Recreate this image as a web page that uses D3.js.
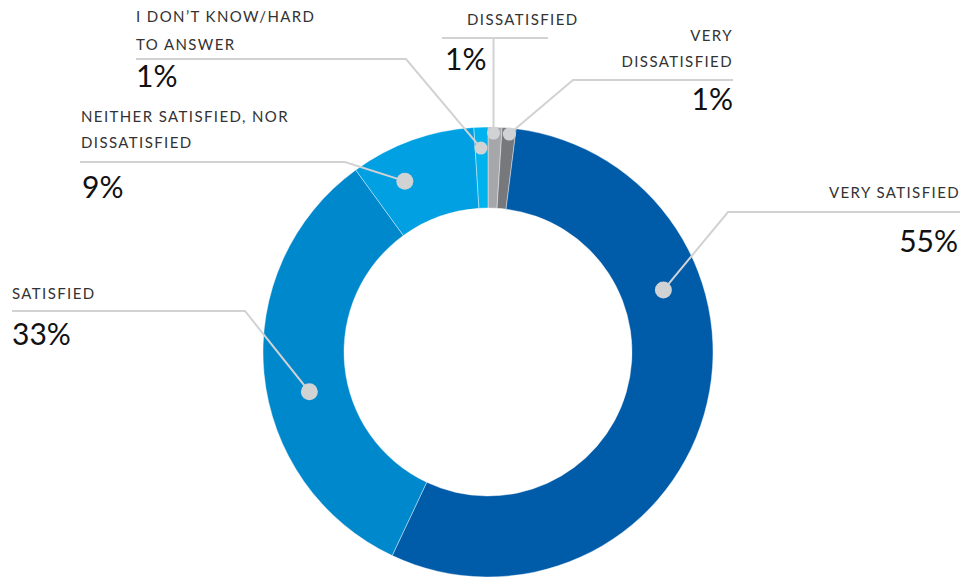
<!DOCTYPE html>
<html>
<head>
<meta charset="utf-8">
<script src="https://cdn.jsdelivr.net/npm/d3@7"></script>
<style>
  body { margin: 0; background: #fff; }
  svg { display: block; }
</style>
</head>
<body>
<div id="chart"></div>
<script>
// data, in clockwise order from 12 o'clock
const categories = ['Dissatisfied', 'Very dissatisfied', 'Very satisfied', 'Satisfied', 'Neither', 'Dont know'];
const shares = [1, 1, 55, 33, 9, 1];
const labelLines = [
  ['DISSATISFIED'],
  ['VERY', 'DISSATISFIED'],
  ['VERY SATISFIED'],
  ['SATISFIED'],
  ['NEITHER SATISFIED, NOR', 'DISSATISFIED'],
  ['I DON\u2019T KNOW/HARD', 'TO ANSWER']
];
const colors = ['#a6a7aa', '#77787b', '#005ba9', '#0088cd', '#00a0e2', '#00b2ee'];

const width = 964, height = 578;
const cx = 488, cy = 352;
const outerR = 225, innerR = 144;

// annotation layout: where along the slice the dot sits, and where the leader goes
const layout = {
  'Dissatisfied':      { t: 0.4, r: 219, dotR: 6.5, elbow: [493, 38], end: 442, lineEnd: 548, textX: 467, textY: [25], pctX: 445, pctY: 70, textAnchor: 'start' },
  'Very dissatisfied': { t: 0.55, r: 219, dotR: 6.5, elbow: [573, 80], end: 733, textX: 733, textY: [41, 67], pctX: 733, pctY: 110, textAnchor: 'end' },
  'Very satisfied':    { t: 0.32, r: 186, dotR: 8.5, elbow: [728, 212], end: 960, textX: 960, textY: [198], pctX: 958, pctY: 252, textAnchor: 'end' },
  'Satisfied':         { t: 0.44, r: 183, dotR: 8.5, elbow: [245, 311], end: 12, textX: 12, textY: [299], pctX: 12, pctY: 345, textAnchor: 'start' },
  'Neither':           { t: 0.31, r: 190, dotR: 8.5, elbow: [345, 162], end: 80, textX: 81, textY: [122, 148], pctX: 82, pctY: 198, textAnchor: 'start' },
  'Dont know':         { t: 0.45, r: 204, dotR: 6.5, elbow: [406, 59], end: 136, textX: 136, textY: [22, 50], pctX: 136, pctY: 87, textAnchor: 'start' }
};

const data = categories.map((c, i) => ({ name: c, value: shares[i], lines: labelLines[i], color: colors[i] }));

const svg = d3.select('#chart').append('svg')
  .attr('width', width)
  .attr('height', height);

const pie = d3.pie().sort(null).value(d => d.value);
const arcs = pie(data);

const arc = d3.arc().innerRadius(innerR).outerRadius(outerR);

const g = svg.append('g').attr('transform', `translate(${cx},${cy})`);

g.selectAll('path')
  .data(arcs)
  .enter()
  .append('path')
  .attr('d', arc)
  .attr('fill', d => d.data.color)
  .attr('stroke', '#fff')
  .attr('stroke-width', 0.4);

// leader lines + dots
const lineColor = '#d1d2d4';
arcs.forEach(d => {
  const L = layout[d.data.name];
  const a = d.startAngle + (d.endAngle - d.startAngle) * L.t;
  const x = cx + Math.sin(a) * L.r;
  const y = cy - Math.cos(a) * L.r;

  if (d.data.name === 'Dissatisfied') {
    // vertical stem into a short horizontal bar
    svg.append('path')
      .attr('d', `M${x},${y}L${x},${L.elbow[1]}`)
      .attr('fill', 'none').attr('stroke', lineColor).attr('stroke-width', 2);
    svg.append('line')
      .attr('x1', L.end).attr('x2', L.lineEnd)
      .attr('y1', L.elbow[1]).attr('y2', L.elbow[1])
      .attr('stroke', lineColor).attr('stroke-width', 2);
  } else {
    svg.append('path')
      .attr('d', `M${x},${y}L${L.elbow[0]},${L.elbow[1]}L${L.end},${L.elbow[1]}`)
      .attr('fill', 'none').attr('stroke', lineColor).attr('stroke-width', 2);
  }

  svg.append('circle')
    .attr('cx', x).attr('cy', y)
    .attr('r', L.dotR)
    .attr('fill', lineColor);

  L.textY.forEach((ty, i) => {
    svg.append('text')
      .attr('x', L.textX).attr('y', ty)
      .attr('text-anchor', L.textAnchor)
      .attr('font-family', 'Lato, "Open Sans", sans-serif')
      .attr('font-size', 15)
      .attr('letter-spacing', 1.4)
      .attr('fill', '#333')
      .text(d.data.lines[i]);
  });

  svg.append('text')
    .attr('x', L.pctX).attr('y', L.pctY)
    .attr('text-anchor', L.textAnchor)
    .attr('font-family', 'Lato, "Open Sans", sans-serif')
    .attr('font-size', 30)
    .attr('fill', '#111')
    .text(d.data.value + '%');
});
</script>
</body>
</html>
